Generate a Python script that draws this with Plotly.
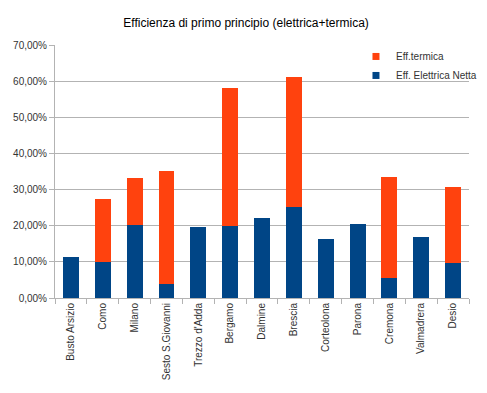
import plotly.graph_objects as go

categories = ["Busto Arsizio", "Como", "Milano", "Sesto S.Giovanni", "Trezzo d'Adda",
              "Bergamo", "Dalmine", "Brescia", "Corteolona", "Parona", "Cremona",
              "Valmadrera", "Desio"]
eff_elettrica = [0.114, 0.099, 0.201, 0.039, 0.196, 0.199, 0.220, 0.251, 0.162, 0.206, 0.056, 0.169, 0.097]
eff_termica = [0.0, 0.176, 0.131, 0.313, 0.0, 0.381, 0.0, 0.361, 0.0, 0.0, 0.279, 0.0, 0.209]
y_ticks = [0, 0.1, 0.2, 0.3, 0.4, 0.5, 0.6, 0.7]

BLUE = "#004586"
ORANGE = "#ff420e"

fig = go.Figure()
fig.add_trace(go.Bar(x=categories, y=eff_elettrica, name="Eff. Elettrica Netta",
                     marker=dict(color=BLUE, line=dict(width=0)), width=0.5,
                     showlegend=False))
fig.add_trace(go.Bar(x=categories, y=eff_termica, name="Eff.termica",
                     marker=dict(color=ORANGE, line=dict(width=0)), width=0.5,
                     showlegend=False))
# legend entries (small square keys)
fig.add_trace(go.Scatter(x=[None], y=[None], mode="markers", name="Eff.termica",
                         marker=dict(symbol="square", size=7, color=ORANGE)))
fig.add_trace(go.Scatter(x=[None], y=[None], mode="markers", name="Eff. Elettrica Netta",
                         marker=dict(symbol="square", size=7, color=BLUE)))

fig.update_layout(
    barmode="stack",
    width=479, height=385,
    paper_bgcolor="white", plot_bgcolor="white",
    separators=",.",
    font=dict(family="Liberation Sans, Arial, sans-serif", size=10, color="#333333"),
    title=dict(text="Efficienza di primo principio (elettrica+termica)",
               x=0.497, xanchor="center", y=0.961, yanchor="middle",
               font=dict(size=12, color="#000000")),
    margin=dict(l=42, r=5, t=37, b=95),
    legend=dict(x=0.727, y=1.012, xanchor="left", yanchor="top", traceorder="normal",
                bgcolor="rgba(0,0,0,0)", font=dict(size=10, color="#333333"),
                itemwidth=30),
    showlegend=True,
)
fig.update_xaxes(tickangle=-90, showline=True, linecolor="#b3b3b3", ticks="outside",
                 tickson="boundaries", tickcolor="#b3b3b3", ticklen=5, showgrid=False)
fig.update_yaxes(range=[0, 0.7], tickvals=y_ticks, tickformat=".2%", showgrid=True,
                 gridcolor="#b3b3b3", showline=True, linecolor="#b3b3b3",
                 ticks="outside", tickcolor="#b3b3b3", ticklen=5, zeroline=False)

fig.write_html("out.html")
